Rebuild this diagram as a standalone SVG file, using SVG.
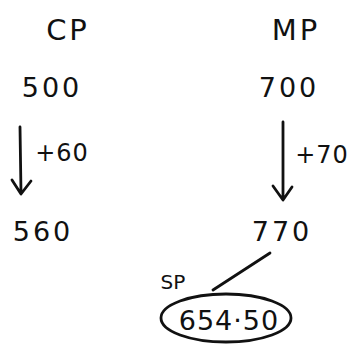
<svg xmlns="http://www.w3.org/2000/svg" width="356" height="345" viewBox="0 0 356 345">
<style>
text{font-family:"DejaVu Sans","Liberation Sans",sans-serif;fill:#111;text-anchor:middle}
.big{font-size:29px;letter-spacing:3px}
.mid{font-size:27px;letter-spacing:3px}
.sm{font-size:24px;letter-spacing:1px}
.xs{font-size:20px}
.ln{stroke:#111;stroke-width:2.8;fill:none;stroke-linecap:round;stroke-linejoin:round}
</style>
<rect width="356" height="345" fill="#fff"/>
<g id="cp"><text class="big" x="68" y="40">CP</text></g>
<g id="mp"><text class="big" x="296" y="40">MP</text></g>
<g id="n500"><text class="mid" x="52" y="97">500</text></g>
<g id="n700"><text class="mid" x="289" y="97">700</text></g>
<g id="n560"><text class="mid" x="43" y="241">560</text></g>
<g id="n770"><text class="mid" x="282" y="241">770</text></g>
<g id="sp">
<text class="xs" x="173" y="289">SP</text>
<ellipse class="ln" cx="226" cy="318" rx="65" ry="24"/>
<text class="mid" x="229" y="330" style="letter-spacing:1px">654·50</text>
</g>
<g id="connectors">
<path class="ln" d="M20 127 L21 193 M12 180 L21 194 L31 181"/>
<text class="sm" x="62" y="161">+60</text>
<path class="ln" d="M283 122 L283 199 M273 186 L283 200 L292 187"/>
<text class="sm" x="322" y="163">+70</text>
<path class="ln" d="M270 253 L213 290"/>
</g>
</svg>
